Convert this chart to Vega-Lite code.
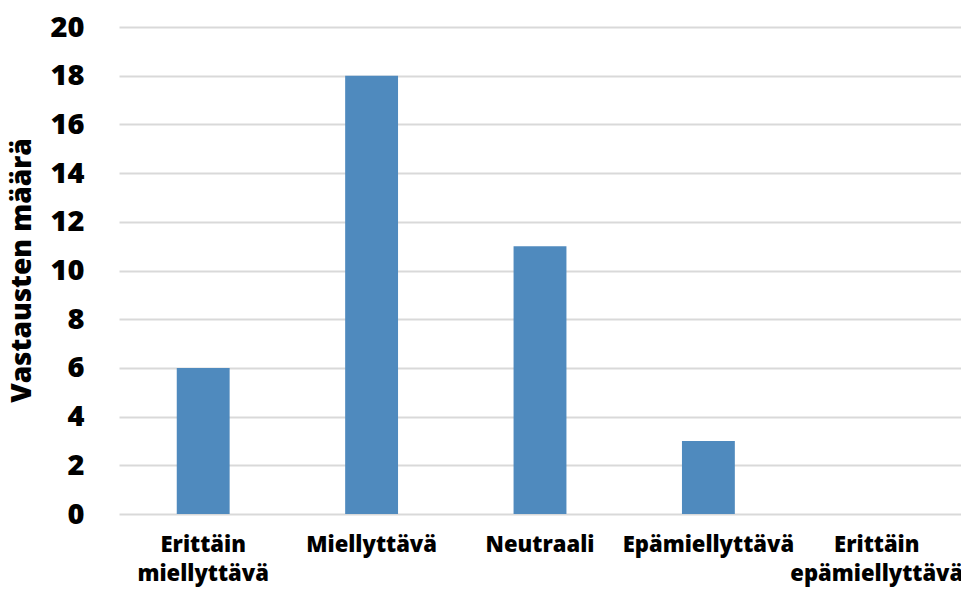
{
  "$schema": "https://vega.github.io/schema/vega-lite/v6.json",
  "autosize": "none",
  "width": 842,
  "height": 487,
  "padding": {"left": 119, "top": 27, "right": 0, "bottom": 79},
  "background": "white",
  "config": {
    "view": {"stroke": null},
    "font": "Open Sans"
  },
  "data": {
    "values": [
      {"vastaus": "Erittäin miellyttävä", "maara": 6},
      {"vastaus": "Miellyttävä", "maara": 18},
      {"vastaus": "Neutraali", "maara": 11},
      {"vastaus": "Epämiellyttävä", "maara": 3},
      {"vastaus": "Erittäin epämiellyttävä", "maara": 0}
    ]
  },
  "mark": {"type": "bar", "color": "#4f8abe"},
  "encoding": {
    "x": {
      "field": "vastaus",
      "type": "nominal",
      "sort": null,
      "scale": {"paddingInner": 0.686, "paddingOuter": 0.343},
      "axis": {
        "title": null,
        "domain": false,
        "ticks": false,
        "grid": false,
        "labelAngle": 0,
        "labelFont": "Open Sans",
        "labelFontSize": 22,
        "labelFontWeight": 800,
        "labelColor": "#000000",
        "labelPadding": 20,
        "labelLineHeight": 29,
        "labelLimit": 0,
        "labelOverlap": false,
        "labelExpr": "split(datum.label, ' ')"
      }
    },
    "y": {
      "field": "maara",
      "type": "quantitative",
      "scale": {"domain": [0, 20], "nice": false},
      "axis": {
        "title": "Vastausten määrä",
        "values": [0, 2, 4, 6, 8, 10, 12, 14, 16, 18, 20],
        "domain": false,
        "ticks": false,
        "grid": true,
        "gridColor": "#d9d9d9",
        "gridWidth": 2,
        "labelFont": "Open Sans",
        "labelFontSize": 29,
        "labelFontWeight": 800,
        "labelColor": "#000000",
        "labelPadding": 35,
        "titleFont": "Open Sans",
        "titleFontSize": 28,
        "titleFontWeight": 800,
        "titleColor": "#000000",
        "titleAngle": -90,
        "titleBaseline": "middle",
        "titleAlign": "center",
        "titleX": -97,
        "titleY": 243
      }
    }
  }
}
